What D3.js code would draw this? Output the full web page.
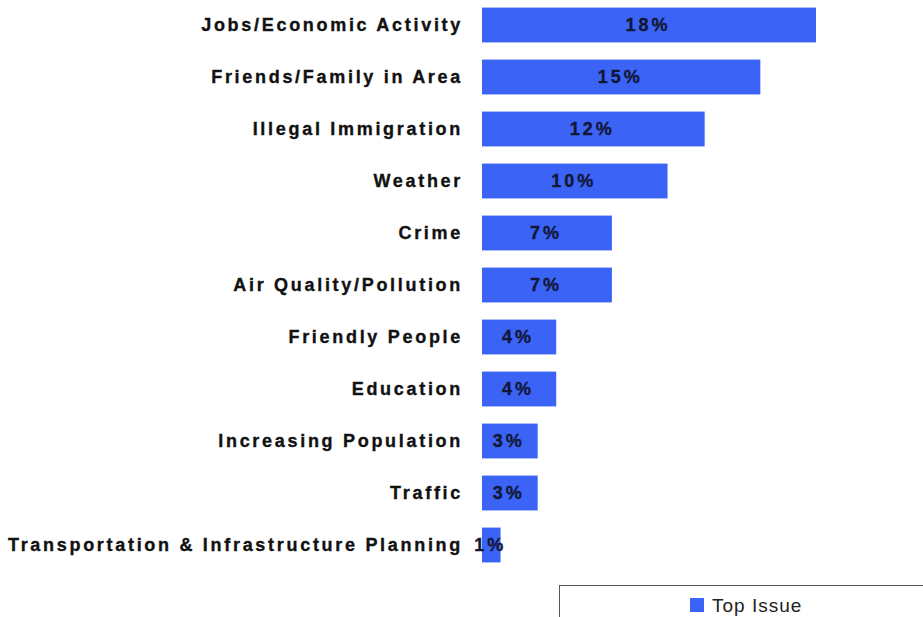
<!DOCTYPE html>
<html><head><meta charset="utf-8">
<script src="https://cdn.jsdelivr.net/npm/d3@7"></script>
<style>body{margin:0;background:#fff}svg{display:block}</style>
</head><body>
<script>
const categories = ["Jobs/Economic Activity","Friends/Family in Area","Illegal Immigration","Weather","Crime","Air Quality/Pollution","Friendly People","Education","Increasing Population","Traffic","Transportation & Infrastructure Planning"];
const values = [18,15,12,10,7,7,4,4,3,3,1];
const seriesName = "Top Issue";

const W = 923, H = 617;
const svg = d3.select("body").append("svg").attr("width", W).attr("height", H);

const x = d3.scaleLinear().domain([0, 18]).range([482, 816]);
const y = d3.scaleBand().domain(categories).range([-1, 571]).paddingInner(0.33).paddingOuter(0.165);

const color = "#3b63f6";
const LS = 2.7;

svg.append("g").selectAll("rect").data(categories).join("rect")
  .attr("x", x(0)).attr("y", d => y(d))
  .attr("width", (d,i) => x(values[i]) - x(0))
  .attr("height", y.bandwidth())
  .attr("fill", color);

svg.append("g").selectAll("text").data(categories).join("text")
  .attr("x", 463).attr("y", d => y(d) + y.bandwidth()/2)
  .attr("dy", "0.36em").attr("text-anchor", "end")
  .attr("font-family", "Liberation Sans, Arial, sans-serif")
  .attr("font-weight", "bold").attr("font-size", 18)
  .attr("letter-spacing", LS + "px")
  .attr("fill", "#111").attr("stroke", "#111").attr("stroke-width", 0.35)
  .text(d => d);

svg.append("g").selectAll("text").data(categories).join("text")
  .attr("x", (d,i) => (x(0) + x(values[i]))/2 - 1)
  .attr("y", d => y(d) + y.bandwidth()/2)
  .attr("dy", "0.36em").attr("text-anchor", "middle")
  .attr("font-family", "Liberation Sans, Arial, sans-serif")
  .attr("font-weight", "bold").attr("font-size", 18)
  .attr("letter-spacing", "3px")
  .attr("fill", "#121736").attr("stroke", "#121736").attr("stroke-width", 0.35)
  .text((d,i) => values[i] + "%");

// legend
const lg = svg.append("g");
lg.append("rect").attr("x", 559.5).attr("y", 585.5).attr("width", 400).attr("height", 60)
  .attr("fill", "#fff").attr("stroke", "#555").attr("stroke-width", 1);
lg.append("rect").attr("x", 690).attr("y", 598).attr("width", 14).attr("height", 14).attr("fill", color);
lg.append("text").attr("x", 712).attr("y", 605).attr("dy", "0.36em")
  .attr("font-family", "Liberation Sans, Arial, sans-serif").attr("font-size", 19)
  .attr("letter-spacing", "1px")
  .attr("fill", "#222").text(seriesName);
</script>
</body></html>
